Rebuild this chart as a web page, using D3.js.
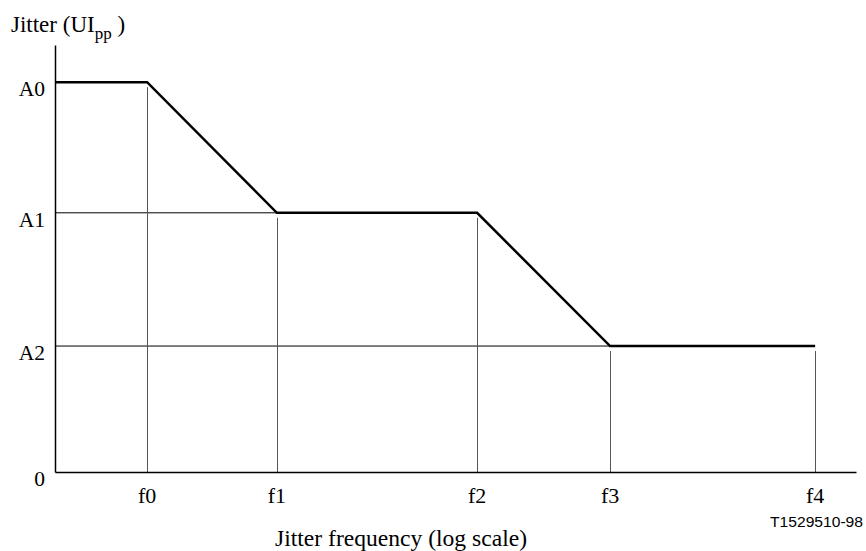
<!DOCTYPE html>
<html>
<head>
<meta charset="utf-8">
<script src="https://cdn.jsdelivr.net/npm/d3@7"></script>
<style>
  html, body { margin: 0; padding: 0; background: #fff; }
  svg { display: block; }
  text { font-family: "Liberation Serif", "Times New Roman", serif; fill: #000; }
</style>
</head>
<body>
<svg id="chart" width="866" height="551"></svg>
<script>
// ---- data ----
const freqLabels = ["f0", "f1", "f2", "f3", "f4"];
const freqPos = [11.5, 27.7, 52.7, 69.3, 94.9];        // position on log-frequency axis (0..100)
const ampLabels = ["0", "A2", "A1", "A0"];
const ampValues = [0, 29.5, 60.7, 91.3];               // jitter amplitude (0..100)
// mask: frequency index -> amplitude at that breakpoint
const maskFreqIdx = [null, 0, 1, 2, 3, 4];              // null = y-axis start
const maskAmp = [91.3, 91.3, 60.7, 60.7, 29.5, 29.5];

// ---- layout ----
const svg = d3.select("#chart");
const x = d3.scaleLinear().domain([0, 100]).range([55, 856]);
const y = d3.scaleLinear().domain([0, 100]).range([472, 45]);

// gridlines (horizontal at A1, A2) to where the mask meets them
const g = svg.append("g");
g.append("line").attr("x1", x(0)).attr("x2", x(freqPos[1])).attr("y1", y(ampValues[2])).attr("y2", y(ampValues[2]))
  .attr("stroke", "#000").attr("stroke-width", 1);
g.append("line").attr("x1", x(0)).attr("x2", x(freqPos[3])).attr("y1", y(ampValues[1])).attr("y2", y(ampValues[1]))
  .attr("stroke", "#000").attr("stroke-width", 1);

// vertical drop lines from the mask to the x axis (small gap below the mask)
const maskAtFreq = [ampValues[3], ampValues[2], ampValues[2], ampValues[1], ampValues[1]];
g.selectAll("line.vdrop").data(freqPos).join("line")
  .attr("class", "vdrop")
  .attr("x1", d => Math.round(x(d)) + 0.5).attr("x2", d => Math.round(x(d)) + 0.5)
  .attr("y1", (d, i) => y(maskAtFreq[i]) + 5)
  .attr("y2", y(0))
  .attr("stroke", "#555").attr("stroke-width", 1);

// axes
const xAxis = d3.axisBottom(x).tickValues([]).tickSize(0).tickSizeOuter(0);
const yAxis = d3.axisLeft(y).tickValues([]).tickSize(0).tickSizeOuter(0);
svg.append("g").attr("transform", `translate(0,${y(0)})`).call(xAxis)
  .select(".domain").attr("stroke", "#000").attr("stroke-width", 1.5);
svg.append("g").attr("transform", `translate(${x(0)},0)`).call(yAxis)
  .select(".domain").attr("stroke", "#000").attr("stroke-width", 1.5);

// mask line
const pts = maskFreqIdx.map((fi, i) => [fi === null ? 0 : freqPos[fi], maskAmp[i]]);
svg.append("path")
  .datum(pts)
  .attr("d", d3.line().x(d => x(d[0])).y(d => y(d[1])))
  .attr("fill", "none").attr("stroke", "#000").attr("stroke-width", 2.5)
  .attr("stroke-linejoin", "miter");

// amplitude labels
svg.selectAll("text.amp").data(ampValues).join("text")
  .attr("class", "amp")
  .attr("x", 45)
  .attr("y", d => y(d) + 14)
  .attr("text-anchor", "end")
  .attr("font-size", 21.5)
  .text((d, i) => ampLabels[i]);

// frequency labels
svg.selectAll("text.freq").data(freqPos).join("text")
  .attr("class", "freq")
  .attr("x", d => x(d))
  .attr("y", 503)
  .attr("text-anchor", "middle")
  .attr("font-size", 22)
  .text((d, i) => freqLabels[i]);

// y title with subscript
const yt = svg.append("text").attr("x", 11).attr("y", 32).attr("font-size", 23);
yt.append("tspan").text("Jitter (UI");
yt.append("tspan").attr("font-size", 17).attr("dy", 7).text("pp");
yt.append("tspan").attr("dy", -7).text(" )");

// x title
svg.append("text").attr("x", 275).attr("y", 546)
  .attr("font-size", 23).attr("textLength", 252).attr("lengthAdjust", "spacingAndGlyphs")
  .text("Jitter frequency (log scale)");

// figure id
svg.append("text").attr("x", 770).attr("y", 527)
  .attr("font-size", 14.5).attr("textLength", 93).attr("lengthAdjust", "spacingAndGlyphs")
  .style("font-family", "'Liberation Sans', Arial, sans-serif")
  .text("T1529510-98");
</script>
</body>
</html>
